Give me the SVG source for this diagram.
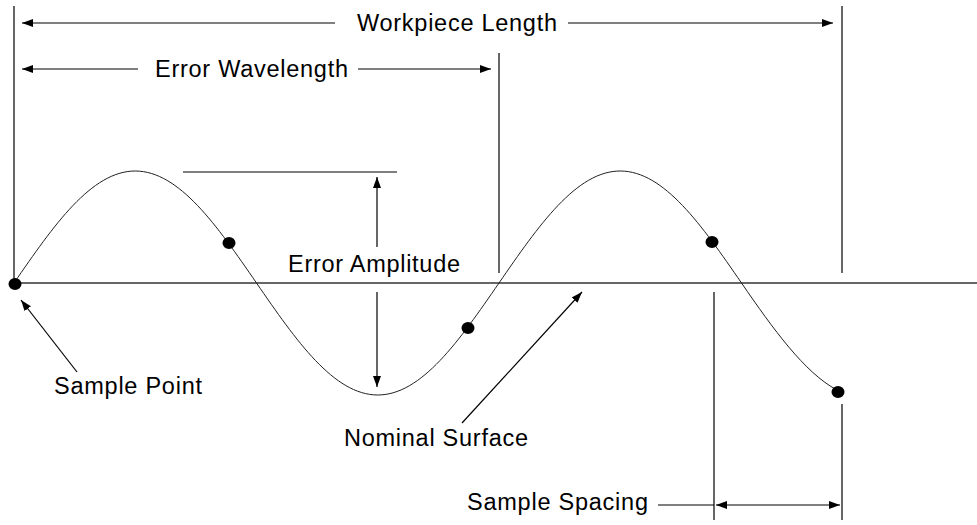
<svg xmlns="http://www.w3.org/2000/svg" width="977" height="525" viewBox="0 0 977 525">
<style>
.ln{stroke:#000;stroke-width:1.2;fill:none}
.crv{stroke:#222;stroke-width:1;fill:none}
.lbl{font-family:"Liberation Sans",Arial,sans-serif;font-size:23.5px;fill:#000}
.dot{fill:#000}
</style>
<defs>
<marker id="ah" markerUnits="userSpaceOnUse" markerWidth="12" markerHeight="10" refX="11" refY="4" orient="auto-start-reverse" viewBox="0 0 12 8">
<path d="M0,0 L11,4 L0,8 Z" fill="#000"/>
</marker>
</defs>
<rect width="977" height="525" fill="#fff"/>
<g id="connectors">
<line class="ln" x1="14" y1="6" x2="14" y2="283"/>
<line class="ln" x1="842" y1="6" x2="842" y2="273"/>
<line class="ln" x1="499" y1="53" x2="499" y2="273"/>
<line class="ln" x1="335" y1="23" x2="22" y2="23" marker-end="url(#ah)"/>
<line class="ln" x1="568" y1="23" x2="833" y2="23" marker-end="url(#ah)"/>
<line class="ln" x1="138" y1="69" x2="22" y2="69" marker-end="url(#ah)"/>
<line class="ln" x1="358" y1="69" x2="491" y2="69" marker-end="url(#ah)"/>
<line class="ln" x1="14" y1="283" x2="977" y2="283" style="stroke:#333;stroke-width:1.5"/>
<line class="ln" x1="183" y1="172" x2="397" y2="172"/>
<line class="ln" x1="377" y1="247" x2="377" y2="177" marker-end="url(#ah)"/>
<line class="ln" x1="377" y1="292" x2="377" y2="387" marker-end="url(#ah)"/>
<line class="ln" x1="77" y1="372" x2="21" y2="300" marker-end="url(#ah)"/>
<line class="ln" x1="462" y1="423" x2="582" y2="292" marker-end="url(#ah)"/>
<line class="ln" x1="714" y1="292" x2="714" y2="520"/>
<line class="ln" x1="842" y1="404" x2="842" y2="520"/>
<line class="ln" x1="658" y1="505" x2="714" y2="505"/>
<line class="ln" x1="716" y1="505" x2="840" y2="505" marker-start="url(#ah)" marker-end="url(#ah)"/>
</g>
<g id="surface">
<path class="crv" d="M14,283 C53.54,225.62 91.37,171 135.25,171 C179.13,171 216.96,225.62 256.5,283 C296.04,340.38 333.87,395 377.75,395 C421.63,395 459.46,340.38 499,283 C538.54,225.62 576.37,171 620.25,171 C664.13,171 701.96,225.62 741.5,283 C772.98,328.68 804.52,372.75 837,390"/>
</g>
<g id="sample-points">
<ellipse class="dot" cx="15" cy="284" rx="6.5" ry="6"/>
<ellipse class="dot" cx="229" cy="243" rx="6.5" ry="6"/>
<ellipse class="dot" cx="468" cy="328" rx="6.5" ry="6"/>
<ellipse class="dot" cx="712" cy="242" rx="6.5" ry="6"/>
<ellipse class="dot" cx="838" cy="392" rx="6.5" ry="6"/>
</g>
<g id="labels">
<text class="lbl" x="357" y="31" textLength="200" lengthAdjust="spacing">Workpiece Length</text>
<text class="lbl" x="155" y="77" textLength="193" lengthAdjust="spacing">Error Wavelength</text>
<text class="lbl" x="288" y="272" textLength="172" lengthAdjust="spacing">Error Amplitude</text>
<text class="lbl" x="54" y="394" textLength="148" lengthAdjust="spacing">Sample Point</text>
<text class="lbl" x="344" y="446" textLength="184" lengthAdjust="spacing">Nominal Surface</text>
<text class="lbl" x="467" y="510" textLength="181" lengthAdjust="spacing">Sample Spacing</text>
</g>
</svg>
